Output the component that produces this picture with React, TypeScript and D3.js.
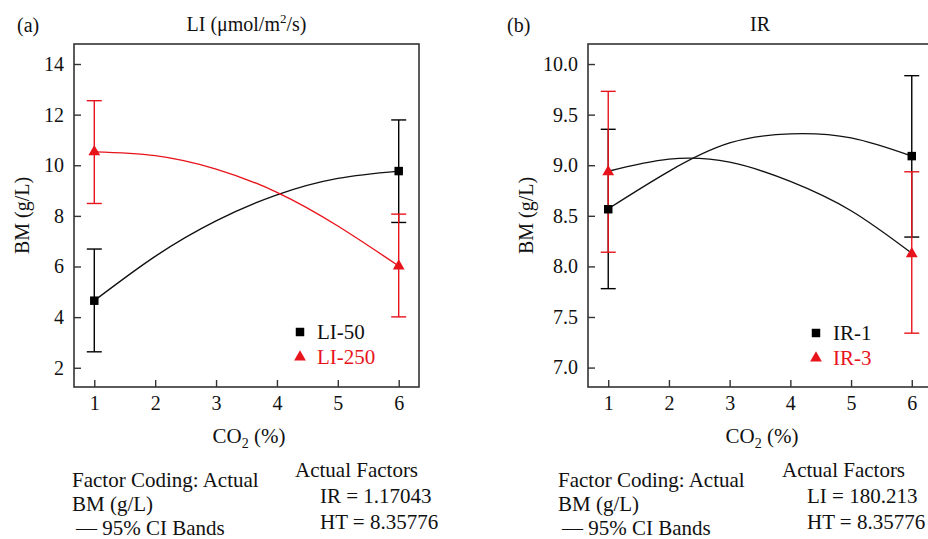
import React, { useEffect, useRef } from "react";
import * as d3 from "d3";

// CO2 (%) positions
const co2 = [1, 2, 3, 4, 5, 6];
const designX = [1, 6];
const xTicks = [1, 2, 3, 4, 5, 6];

// panel (a): LI
const li50Curve = [4.65, 6.4, 7.8, 8.83, 9.48, 9.77];
const li250Curve = [10.53, 10.38, 9.85, 8.93, 7.6, 6.02];
const li50Mean = [4.65, 9.77];
const li50Low = [2.63, 7.74];
const li50High = [6.69, 11.79];
const li250Mean = [10.53, 6.02];
const li250Low = [8.49, 4.01];
const li250High = [12.55, 8.07];
const aYTicks = [2, 4, 6, 8, 10, 12, 14];

// panel (b): IR
const ir1Curve = [8.57, 8.94, 9.22, 9.31, 9.27, 9.09];
const ir3Curve = [8.94, 9.06, 9.03, 8.84, 8.55, 8.13];
const ir1Mean = [8.565, 9.09];
const ir1Low = [7.78, 8.29];
const ir1High = [9.355, 9.885];
const ir3Mean = [8.935, 8.125];
const ir3Low = [8.14, 7.34];
const ir3High = [9.73, 8.935];
const bYTicks = [7.0, 7.5, 8.0, 8.5, 9.0, 9.5, 10.0];

const RED = "#e8141c";
const FONT = "'Liberation Serif', 'Times New Roman', serif";

const App = () => {
  const svgRef = useRef<SVGSVGElement>(null);

  useEffect(() => {
    const svg = d3.select(svgRef.current);
    svg.selectAll("*").remove();
    svg.style("font-family", FONT);

    const drawPanel = (cfg: any) => {
      const { left, right, top, bottom } = cfg;
      const g = svg.append("g");

      const x = d3.scaleLinear().domain([2 / 3, 6 + 1 / 3]).range([left, right]);
      const y = d3.scaleLinear().domain(cfg.yDomain).range([bottom, top]);

      // axes with inward ticks
      const yAxis = g
        .append("g")
        .attr("transform", `translate(${left},0)`)
        .call(
          d3
            .axisLeft(y)
            .tickValues(cfg.yTicks)
            .tickFormat(cfg.yFormat)
            .tickSizeInner(-7)
            .tickSizeOuter(0)
            .tickPadding(10)
        );
      const xAxis = g
        .append("g")
        .attr("transform", `translate(0,${bottom})`)
        .call(
          d3
            .axisBottom(x)
            .tickValues(xTicks)
            .tickFormat(d3.format("d"))
            .tickSizeInner(-7)
            .tickSizeOuter(0)
            .tickPadding(9)
        );
      [yAxis, xAxis].forEach((ax) => {
        ax.attr("font-family", FONT);
        ax.select(".domain").remove();
        ax.selectAll("line").attr("stroke", "#333").attr("stroke-width", 1.4);
        ax.selectAll("text")
          .attr("fill", "#111")
          .style("font-size", "20px")
          .style("font-family", FONT);
      });

      // frame
      g.append("rect")
        .attr("x", left)
        .attr("y", top)
        .attr("width", right - left)
        .attr("height", bottom - top)
        .attr("fill", "none")
        .attr("stroke", "#333")
        .attr("stroke-width", 1.6);

      const line = d3
        .line<number>()
        .x((d, i) => x(co2[i]))
        .y((d) => y(d))
        .curve(d3.curveNatural);

      cfg.series.forEach((s: any) => {
        g.append("path")
          .datum(s.curve)
          .attr("fill", "none")
          .attr("stroke", s.lineColor)
          .attr("stroke-width", 1.4)
          .attr("d", line);
      });

      // error bars (red drawn over black)
      cfg.series.forEach((s: any) => {
        designX.forEach((xv, i) => {
          const cx = x(xv);
          g.append("line")
            .attr("x1", cx)
            .attr("x2", cx)
            .attr("y1", y(s.low[i]))
            .attr("y2", y(s.high[i]))
            .attr("stroke", s.color)
            .attr("stroke-width", 1.4);
          [s.low[i], s.high[i]].forEach((v) => {
            g.append("line")
              .attr("x1", cx - 7.5)
              .attr("x2", cx + 7.5)
              .attr("y1", y(v))
              .attr("y2", y(v))
              .attr("stroke", s.color)
              .attr("stroke-width", 1.4);
          });
        });
      });

      const sq = d3.symbol().type(d3.symbolSquare).size(72);
      const tri = d3.symbol().type(d3.symbolTriangle).size(60);

      cfg.series.forEach((s: any) => {
        g.selectAll(null)
          .data(s.mean)
          .enter()
          .append("path")
          .attr("d", s.marker === "square" ? sq : tri)
          .attr("transform", (d: any, i) => `translate(${x(designX[i])},${y(d)})`)
          .attr("fill", s.color);
      });

      // legend
      cfg.series.forEach((s: any, i: number) => {
        const ly = cfg.legendY + i * 25;
        g.append("path")
          .attr("d", s.marker === "square" ? sq : tri)
          .attr("transform", `translate(${cfg.legendX},${ly})`)
          .attr("fill", s.color);
        g.append("text")
          .attr("x", cfg.legendX + 17)
          .attr("y", ly + 7)
          .attr("fill", s.color === "#000" ? "#111" : s.color)
          .style("font-size", "21px")
          .text(s.name);
      });

      // panel tag and title
      g.append("text")
        .attr("x", cfg.tagX)
        .attr("y", 32)
        .style("font-size", "20px")
        .attr("fill", "#111")
        .text(cfg.tag);

      const title = g
        .append("text")
        .attr("x", (left + right) / 2)
        .attr("y", 31)
        .attr("text-anchor", "middle")
        .style("font-size", "20px")
        .attr("fill", "#111");
      cfg.title.forEach((part: any) => {
        const t = title.append("tspan").text(part.t);
        if (part.sup) t.attr("dy", -8).style("font-size", "13px");
        if (part.back) t.attr("dy", 8);
      });

      // y label
      g.append("text")
        .attr("transform", `translate(${cfg.yLabelX},${(top + bottom) / 2}) rotate(-90)`)
        .attr("text-anchor", "middle")
        .style("font-size", "20px")
        .attr("fill", "#111")
        .text("BM (g/L)");

      // x label with subscript
      const xl = g
        .append("text")
        .attr("x", cfg.xLabelX)
        .attr("y", 443)
        .attr("text-anchor", "middle")
        .style("font-size", "21px")
        .attr("fill", "#111");
      xl.append("tspan").text("CO");
      xl.append("tspan").attr("dy", 5).style("font-size", "14px").text("2");
      xl.append("tspan").attr("dy", -5).text(" (%)");

      // footer notes
      const note = (tx: number, ty: number, str: string) =>
        g
          .append("text")
          .attr("x", tx)
          .attr("y", ty)
          .style("font-size", "21px")
          .attr("fill", "#111")
          .text(str);
      note(cfg.noteX, 487, "Factor Coding: Actual");
      note(cfg.noteX, 511, "BM (g/L)");
      note(cfg.noteX + 4, 535, "\u2014 95% CI Bands");
      note(cfg.factX, 477, "Actual Factors");
      note(cfg.factX + 25, 503, cfg.fact1);
      note(cfg.factX + 25, 529, "HT = 8.35776");
    };

    drawPanel({
      left: 74,
      right: 419,
      top: 44,
      bottom: 387,
      yDomain: [1.24, 14.79],
      yTicks: aYTicks,
      yFormat: d3.format("d"),
      tag: "(a)",
      tagX: 17,
      title: [{ t: "LI (\u03bcmol/m" }, { t: "2", sup: true }, { t: "/s)", back: true }],
      yLabelX: 29,
      xLabelX: 249,
      legendX: 300,
      legendY: 332,
      noteX: 72,
      factX: 295,
      fact1: "IR = 1.17043",
      series: [
        { name: "LI-50", curve: li50Curve, mean: li50Mean, low: li50Low, high: li50High, color: "#000", lineColor: "#111", marker: "square" },
        { name: "LI-250", curve: li250Curve, mean: li250Mean, low: li250Low, high: li250High, color: RED, lineColor: RED, marker: "triangle" },
      ],
    });

    drawPanel({
      left: 588,
      right: 932,
      top: 44,
      bottom: 387,
      yDomain: [6.808, 10.198],
      yTicks: bYTicks,
      yFormat: d3.format(".1f"),
      tag: "(b)",
      tagX: 507,
      title: [{ t: "IR" }],
      yLabelX: 533,
      xLabelX: 762,
      legendX: 816,
      legendY: 333,
      noteX: 558,
      factX: 782,
      fact1: "LI = 180.213",
      series: [
        { name: "IR-1", curve: ir1Curve, mean: ir1Mean, low: ir1Low, high: ir1High, color: "#000", lineColor: "#111", marker: "square" },
        { name: "IR-3", curve: ir3Curve, mean: ir3Mean, low: ir3Low, high: ir3High, color: RED, lineColor: "#111", marker: "triangle" },
      ],
    });
  }, []);

  return (
    <svg
      ref={svgRef}
      width={928}
      height={539}
      style={{ position: "absolute", left: 0, top: 0, background: "#fff" }}
    ></svg>
  );
};

export default App;
